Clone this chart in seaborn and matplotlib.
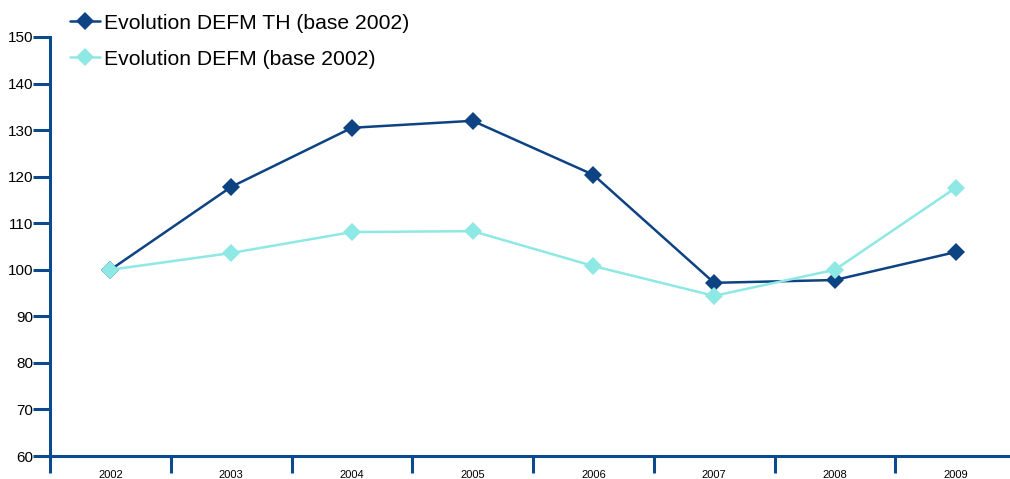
import matplotlib
matplotlib.use("Agg")
import matplotlib.pyplot as plt
import seaborn as sns
import pandas as pd
import numpy as np

years = ["2002", "2003", "2004", "2005", "2006", "2007", "2008", "2009"]
defm_th = [100, 117.8, 130.5, 132.0, 120.4, 97.2, 97.8, 103.8]
defm = [100, 103.6, 108.1, 108.3, 100.8, 94.4, 100.0, 117.6]
series_names = ["Evolution DEFM TH (base 2002)", "Evolution DEFM (base 2002)"]

dark = "#0d4382"
light = "#8ee8e4"
axis_col = "#0b4a8c"

df = pd.DataFrame({
    "year": years * 2,
    "value": defm_th + defm,
    "serie": [series_names[0]] * len(years) + [series_names[1]] * len(years),
})

sns.set_style("white")
plt.rcParams['font.family'] = ['Liberation Sans', 'DejaVu Sans']
plt.rcParams['text.color'] = 'black'
plt.rcParams['xtick.labelcolor'] = 'black'
plt.rcParams['ytick.labelcolor'] = 'black'

fig = plt.figure(figsize=(10.1, 4.79), dpi=100)
ax = fig.add_axes([50 / 1010, 23 / 479, 966 / 1010, 419 / 479])

sns.lineplot(data=df, x="year", y="value", hue="serie",
             palette=[dark, light], marker="D", markersize=9.5,
             markeredgewidth=0, linewidth=1.8, ax=ax, sort=False)

ax.set_xlim(-0.5, len(years) - 0.5)
ax.set_ylim(60, 150)
ax.set_yticks(np.arange(60, 151, 10))
ax.set_xticks(np.arange(-0.5, len(years), 1))
ax.set_xticklabels([])
ax.set_xticks(np.arange(len(years)), minor=True)
ax.set_xticklabels(years, minor=True, fontsize=8)
ax.tick_params(axis="x", which="major", direction="out", length=12, width=2.2,
               color=axis_col, bottom=True)
ax.tick_params(axis="x", which="minor", length=0, pad=10)
ax.tick_params(axis="y", direction="out", length=12, width=2.2, color=axis_col,
               labelsize=11, pad=0, left=True)

for side in ["top", "right"]:
    ax.spines[side].set_visible(False)
for side in ["left", "bottom"]:
    ax.spines[side].set_color(axis_col)
    ax.spines[side].set_linewidth(2.2)

ax.set_xlabel("")
ax.set_ylabel("")
ax.legend(loc="upper left", bbox_to_anchor=(57 / 1010, 478 / 479), bbox_transform=fig.transFigure,
          frameon=False, fontsize=15.2, handlelength=1.45, handletextpad=0.2,
          labelspacing=0.8, borderaxespad=0.2)

fig.savefig("out.png", dpi=100)
